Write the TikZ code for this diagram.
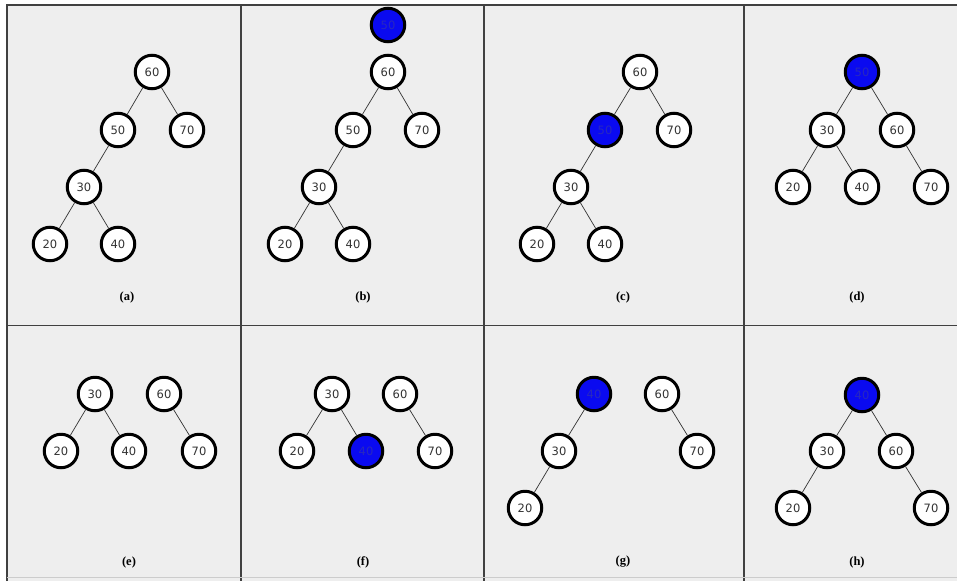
\documentclass[tikz,border=0pt]{standalone}
\usepackage{fontspec}
\setmainfont{Liberation Serif}
\newfontfamily\nodefont{DejaVu Sans}
\definecolor{panelbg}{HTML}{EEEEEE}
\definecolor{hiblue}{HTML}{0A0AF0}
\definecolor{hitext}{HTML}{2828C0}
\definecolor{edgegray}{HTML}{333333}
\begin{document}
\begin{tikzpicture}[x=1pt,y=-1pt,
  nd/.style={circle,draw=black,line width=3pt,fill=white,minimum size=33.5pt,inner sep=0pt,font=\nodefont\fontsize{11.5}{11.5}\selectfont,text=black!80},
  hi/.style={nd,fill=hiblue,text=hitext},
  ed/.style={draw=edgegray,line width=0.7pt},
  captext/.style={font=\bfseries\fontsize{12.5}{12.5}\selectfont},
  frame/.style={draw=black!75,line width=1.2pt}]
\useasboundingbox (0,0) rectangle (957,581);
\fill[white] (0,0) rectangle (957,581);
\fill[panelbg] (7,5) rectangle (957,581);
\draw[frame] (7,581) -- (7,5) -- (957,5);
\draw[frame] (7,325.5) -- (957,325.5);
\draw[frame] (241,5) -- (241,581);
\draw[frame] (484,5) -- (484,581);
\draw[frame] (744,5) -- (744,581);
\draw[black!20,line width=0.5pt] (7,577) -- (957,577);
% (a)
\node[nd] (a60) at (152,72) {60};
\node[nd] (a50) at (118,130) {50};
\node[nd] (a70) at (187,130) {70};
\node[nd] (a30) at (84,187) {30};
\node[nd] (a20) at (50,244) {20};
\node[nd] (a40) at (118,244) {40};
\draw[ed] (a60) -- (a50); \draw[ed] (a60) -- (a70); \draw[ed] (a50) -- (a30);
\draw[ed] (a30) -- (a20); \draw[ed] (a30) -- (a40);
\node[captext] (la) at (127,297) {(a)};
% (b)
\node[hi] (bnew) at (388,25) {50};
\node[nd] (b60) at (388,72) {60};
\node[nd] (b50) at (353,130) {50};
\node[nd] (b70) at (422,130) {70};
\node[nd] (b30) at (319,187) {30};
\node[nd] (b20) at (285,244) {20};
\node[nd] (b40) at (353,244) {40};
\draw[ed] (b60) -- (b50); \draw[ed] (b60) -- (b70); \draw[ed] (b50) -- (b30);
\draw[ed] (b30) -- (b20); \draw[ed] (b30) -- (b40);
\node[captext] (lb) at (363,297) {(b)};
% (c)
\node[nd] (c60) at (640,72) {60};
\node[hi] (c50) at (605,130) {50};
\node[nd] (c70) at (674,130) {70};
\node[nd] (c30) at (571,187) {30};
\node[nd] (c20) at (537,244) {20};
\node[nd] (c40) at (605,244) {40};
\draw[ed] (c60) -- (c50); \draw[ed] (c60) -- (c70); \draw[ed] (c50) -- (c30);
\draw[ed] (c30) -- (c20); \draw[ed] (c30) -- (c40);
\node[captext] (lc) at (623,297) {(c)};
% (d)
\node[hi] (d50) at (862,72) {50};
\node[nd] (d30) at (827,130) {30};
\node[nd] (d60) at (897,130) {60};
\node[nd] (d20) at (793,187) {20};
\node[nd] (d40) at (862,187) {40};
\node[nd] (d70) at (931,187) {70};
\draw[ed] (d50) -- (d30); \draw[ed] (d50) -- (d60); \draw[ed] (d30) -- (d20);
\draw[ed] (d30) -- (d40); \draw[ed] (d60) -- (d70);
\node[captext] (ld) at (857,297) {(d)};
% (e)
\node[nd] (e30) at (95,394) {30};
\node[nd] (e60) at (164,394) {60};
\node[nd] (e20) at (61,451) {20};
\node[nd] (e40) at (129,451) {40};
\node[nd] (e70) at (199,451) {70};
\draw[ed] (e30) -- (e20); \draw[ed] (e30) -- (e40); \draw[ed] (e60) -- (e70);
\node[captext] (le) at (129,562) {(e)};
% (f)
\node[nd] (f30) at (332,394) {30};
\node[nd] (f60) at (400,394) {60};
\node[nd] (f20) at (297,451) {20};
\node[hi] (f40) at (366,451) {40};
\node[nd] (f70) at (435,451) {70};
\draw[ed] (f30) -- (f20); \draw[ed] (f30) -- (f40); \draw[ed] (f60) -- (f70);
\node[captext] (lf) at (363,562) {(f)};
% (g)
\node[hi] (g40) at (594,394) {40};
\node[nd] (g60) at (662,394) {60};
\node[nd] (g30) at (559,451) {30};
\node[nd] (g70) at (697,451) {70};
\node[nd] (g20) at (525,508) {20};
\draw[ed] (g40) -- (g30); \draw[ed] (g30) -- (g20); \draw[ed] (g60) -- (g70);
\node[captext] (lg) at (623,562) {(g)};
% (h)
\node[hi] (h40) at (862,395) {40};
\node[nd] (h30) at (827,451) {30};
\node[nd] (h60) at (896,451) {60};
\node[nd] (h20) at (793,508) {20};
\node[nd] (h70) at (931,508) {70};
\draw[ed] (h40) -- (h30); \draw[ed] (h40) -- (h60); \draw[ed] (h30) -- (h20);
\draw[ed] (h60) -- (h70);
\node[captext] (lh) at (857,562) {(h)};
\end{tikzpicture}
\end{document}
